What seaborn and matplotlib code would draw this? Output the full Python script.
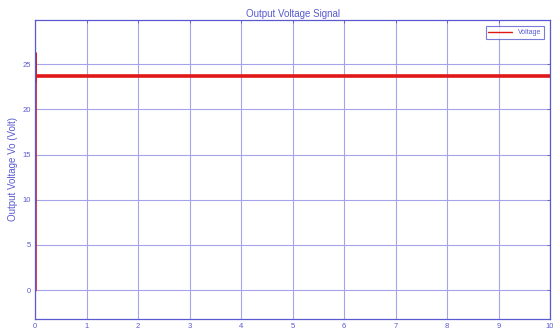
import matplotlib
matplotlib.use("Agg")
import matplotlib.pyplot as plt
import seaborn as sns
import pandas as pd

# Output voltage of the converter over the simulation run
time_s = [0.0, 0.001, 0.003, 0.006, 10.0]
voltage_v = [0.0, 26.2, 23.2, 23.7, 23.7]
x_ticks = [0, 1, 2, 3, 4, 5, 6, 7, 8, 9, 10]
y_ticks = [0, 5, 10, 15, 20, 25]

df = pd.DataFrame({"Time": time_s, "Voltage": voltage_v})

sns.set_theme(style="white")
plt.rcParams["font.family"] = ["Liberation Sans", "DejaVu Sans"]

blue = "#5a5ad0"
grid_blue = "#a4a4ea"

fig = plt.figure(figsize=(5.53, 3.36), dpi=100)
ax = fig.add_axes([0.0633, 0.0506, 0.9313, 0.8899])

sns.lineplot(data=df, x="Time", y="Voltage", ax=ax, color="#e01818",
             linewidth=2.6, label="Voltage", estimator=None)

ax.set_xlim(0, 10)
ax.set_ylim(-3.2, 29.9)
ax.set_xticks(x_ticks)
ax.set_yticks(y_ticks)
ax.grid(True, color=grid_blue, linewidth=0.8)
ax.set_axisbelow(True)

for side in ["left", "right", "top", "bottom"]:
    ax.spines[side].set_color(blue)
    ax.spines[side].set_linewidth(0.9)

ax.tick_params(axis="both", colors=blue, labelsize=5.5, length=2.5, width=0.6,
               direction="in", pad=3)
ax.tick_params(axis="both", which="both", top=True, right=True)

ax.set_title("Output Voltage Signal", color=blue, fontsize=7, pad=2)
ax.set_xlabel("")
ax.set_ylabel("Output Voltage Vo (Volt)", color=blue, fontsize=7, labelpad=3)

leg = ax.legend(loc="upper right", fontsize=5, frameon=True, fancybox=False,
                handlelength=3.4, borderpad=0.4, borderaxespad=0.9)
leg.get_frame().set_edgecolor(blue)
leg.get_frame().set_linewidth(0.8)
for txt in leg.get_texts():
    txt.set_color(blue)
for line in leg.get_lines():
    line.set_linewidth(1.0)

fig.savefig("out.png", dpi=100, facecolor="white")
